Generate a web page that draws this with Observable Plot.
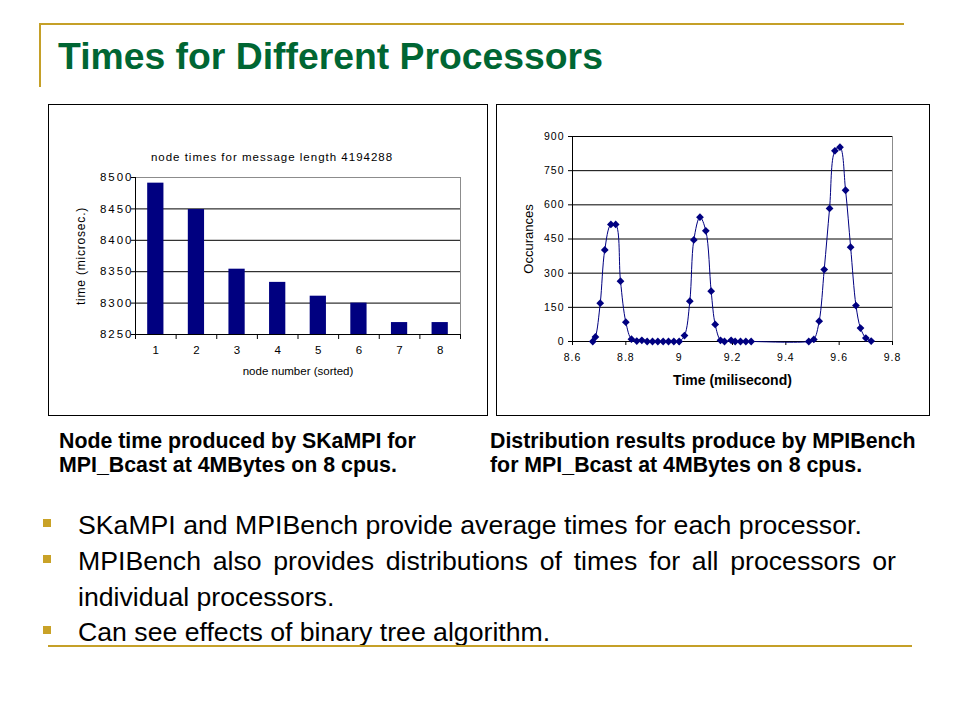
<!DOCTYPE html>
<html>
<head>
<meta charset="utf-8">
<script src="https://cdn.jsdelivr.net/npm/d3@7"></script>
<script src="https://cdn.jsdelivr.net/npm/@observablehq/plot@0.6"></script>
<style>
html,body{margin:0;padding:0;background:#fff;}
#slide{position:relative;width:960px;height:720px;overflow:hidden;font-family:"Liberation Sans",Arial,sans-serif;color:#000;background:#fff;}
.gold{position:absolute;background:#C5A028;}
#title{position:absolute;left:58px;top:38.4px;font-size:37.33px;line-height:37.33px;font-weight:bold;color:#006633;white-space:nowrap;}
.box{position:absolute;outline:1px solid #000;outline-offset:-1px;}
.box svg{position:absolute;left:0;top:0;}
.cap{position:absolute;font-size:21.33px;line-height:24px;font-weight:bold;white-space:nowrap;}
.bul{position:absolute;left:78px;width:818px;font-size:26.67px;line-height:35.5px;text-align:justify;}
.sq{position:absolute;left:43px;width:8px;height:8px;background:#C9A227;}
</style>
</head>
<body>
<div id="slide">
  <div class="gold" style="left:39px;top:23px;width:865px;height:2px"></div>
  <div class="gold" style="left:39px;top:23px;width:2px;height:64px"></div>
  <div id="title">Times for Different Processors</div>

  <div class="box" id="box1" style="left:48px;top:104px;width:440px;height:312px"></div>
  <div class="box" id="box2" style="left:496px;top:104px;width:434px;height:312px"></div>

  <div class="cap" style="left:59px;top:428.6px">Node time produced by SKaMPI for<br>MPI_Bcast at 4MBytes on 8 cpus.</div>
  <div class="cap" style="left:490px;top:428.6px">Distribution results produce by MPIBench<br>for MPI_Bcast at 4MBytes on 8 cpus.</div>

  <div class="sq" style="top:519px"></div>
  <div class="bul" style="top:508px">SKaMPI and MPIBench provide average times for each processor.</div>
  <div class="sq" style="top:555px"></div>
  <div class="bul" style="top:544px">MPIBench also provides distributions of times for all processors or individual processors.</div>
  <div class="sq" style="top:626px"></div>
  <div class="bul" style="top:615px">Can see effects of binary tree algorithm.</div>
  <div class="gold" style="left:48px;top:645px;width:864px;height:2px"></div>
</div>
<script>
// ---- Left chart data (SKaMPI node times) ----
const nodes = [1, 2, 3, 4, 5, 6, 7, 8];
const nodeTimes = [8491, 8449, 8354, 8333, 8311, 8300, 8269, 8269];
const leftYTicks = [8250, 8300, 8350, 8400, 8450, 8500];
const leftTitle = "node times for message length 4194288";
const leftYLabel = "time (microsec.)";
const leftXLabel = "node number (sorted)";

// ---- Right chart data (MPIBench distribution) ----
const distTimes = [8.676, 8.686, 8.704, 8.721, 8.744, 8.762, 8.78, 8.80, 8.821, 8.841, 8.86,
  8.88, 8.90, 8.92, 8.94, 8.96, 8.98, 9.00,
  9.02, 9.04, 9.055, 9.078, 9.10, 9.12, 9.135,
  9.155, 9.17, 9.195, 9.21, 9.23, 9.25, 9.27,
  9.486, 9.505, 9.525, 9.544, 9.564, 9.584, 9.603, 9.624, 9.643, 9.663, 9.68, 9.70, 9.72];
const distCounts = [0, 20, 168, 402, 514, 514, 265, 85, 10, 2, 5,
  0, 0, 0, 0, 0, 0, 0,
  26, 177, 446, 546, 486, 221, 75,
  5, 0, 5, 0, 0, 0, 0,
  0, 9, 89, 316, 584, 837, 853, 664, 414, 158, 59, 15, 2];
const rightYTicks = [0, 150, 300, 450, 600, 750, 900];
const rightXTicks = [8.6, 8.8, 9, 9.2, 9.4, 9.6, 9.8];
const rightYLabel = "Occurances";
const rightXLabel = "Time (milisecond)";

const navy = "#000080";
const font = "'Liberation Sans', Arial, sans-serif";
const fmt = d => String(d);

// ---- Left chart ----
const L = {w: 440, h: 312, ml: 87, mr: 28, mt: 73, mb: 82};
const step = (L.w - L.ml - L.mr) / nodes.length;
const bars = nodes.map((n, i) => ({node: n, time: nodeTimes[i]}));
const base = leftYTicks[0];
const top1 = leftYTicks[leftYTicks.length - 1];

const left = Plot.plot({
  width: L.w, height: L.h,
  marginLeft: L.ml, marginRight: L.mr, marginTop: L.mt, marginBottom: L.mb,
  style: {fontFamily: font, fontSize: "11.5px", background: "transparent", color: "#000"},
  x: {type: "band", domain: nodes, paddingInner: 0.6, paddingOuter: 0.3, round: false, axis: null},
  y: {domain: [base, top1], axis: null},
  marks: [
    Plot.frame({stroke: "#8c8c8c"}),
    Plot.gridY(leftYTicks.slice(1, -1), {stroke: "#000", strokeOpacity: 1}),
    Plot.barY(bars, {x: "node", y1: base, y2: "time", fill: navy}),
    Plot.ruleY([base], {stroke: "#000"}),
    Plot.ruleX([nodes[0]], {y1: base, y2: top1, dx: -step / 2, stroke: "#000"}),
    Plot.ruleX(nodes, {y1: base, y2: base, dx: -step / 2, insetBottom: -5, stroke: "#000"}),
    Plot.ruleX([nodes[nodes.length - 1]], {y1: base, y2: base, dx: step / 2, insetBottom: -5, stroke: "#000"}),
    Plot.axisY(leftYTicks, {tickSize: 4, tickPadding: -2, label: null, fontSize: 11.5, tickFormat: fmt}),
    Plot.axisX(nodes, {tickSize: 0, tickPadding: 11, label: null, fontSize: 11.5, tickFormat: fmt}),
    Plot.text([leftTitle], {text: d => d, frameAnchor: "top", textAnchor: "middle", lineAnchor: "middle", dx: -26, dy: -20, fontSize: 11.5}),
    Plot.text([leftYLabel], {text: d => d, frameAnchor: "left", textAnchor: "middle", lineAnchor: "middle", rotate: -90, dx: -54, fontSize: 12}),
    Plot.text([leftXLabel], {text: d => d, frameAnchor: "bottom", textAnchor: "middle", lineAnchor: "middle", dy: 37, fontSize: 11.5})
  ]
});
document.getElementById("box1").appendChild(left);

// ---- Right chart ----
const R = {w: 434, h: 312, ml: 76, mr: 38, mt: 32, mb: 75};
const dist = distTimes.map((t, i) => ({t, n: distCounts[i]}));
const right = Plot.plot({
  width: R.w, height: R.h,
  marginLeft: R.ml, marginRight: R.mr, marginTop: R.mt, marginBottom: R.mb,
  style: {fontFamily: font, fontSize: "10.5px", background: "transparent", color: "#000"},
  x: {domain: [rightXTicks[0], rightXTicks[rightXTicks.length - 1]], axis: null},
  y: {domain: [rightYTicks[0], rightYTicks[rightYTicks.length - 1]], axis: null},
  marks: [
    Plot.frame({stroke: "#8c8c8c"}),
    Plot.gridY(rightYTicks.slice(1), {stroke: "#000", strokeOpacity: 1}),
    Plot.ruleX([rightXTicks[0]], {stroke: "#000"}),
    Plot.ruleY([rightYTicks[0]], {stroke: "#000"}),
    Plot.axisY(rightYTicks, {tickSize: 4, tickPadding: 4, label: null, fontSize: 10.5, tickFormat: fmt}),
    Plot.axisX(rightXTicks, {tickSize: 4, tickPadding: 8, label: null, fontSize: 10.5, tickFormat: fmt}),
    Plot.line(dist, {x: "t", y: "n", stroke: navy, strokeWidth: 1, curve: "catmull-rom"}),
    Plot.dot(dist, {x: "t", y: "n", symbol: "diamond2", r: 3.5, fill: navy, stroke: "none"}),
    Plot.text([rightYLabel], {text: d => d, frameAnchor: "left", textAnchor: "middle", lineAnchor: "middle", rotate: -90, dx: -44, fontSize: 13}),
    Plot.text([rightXLabel], {text: d => d, frameAnchor: "bottom", textAnchor: "middle", lineAnchor: "middle", dy: 39, fontSize: 14, fontWeight: "bold"})
  ]
});
document.getElementById("box2").appendChild(right);

// letter spacing tweaks to mimic the Excel rendering (selected by text content)
function spacing(svg, texts, ls) {
  const set = new Set(texts.map(String));
  d3.select(svg).selectAll("text").filter(function () { return set.has(this.textContent); })
    .style("letter-spacing", ls);
}
spacing(left, leftYTicks, "2px");
spacing(left, [leftTitle], "1px");
spacing(left, [leftYLabel], "0.8px");
spacing(right, rightYTicks, "1px");
spacing(right, rightXTicks, "1px");
</script>
</body>
</html>
